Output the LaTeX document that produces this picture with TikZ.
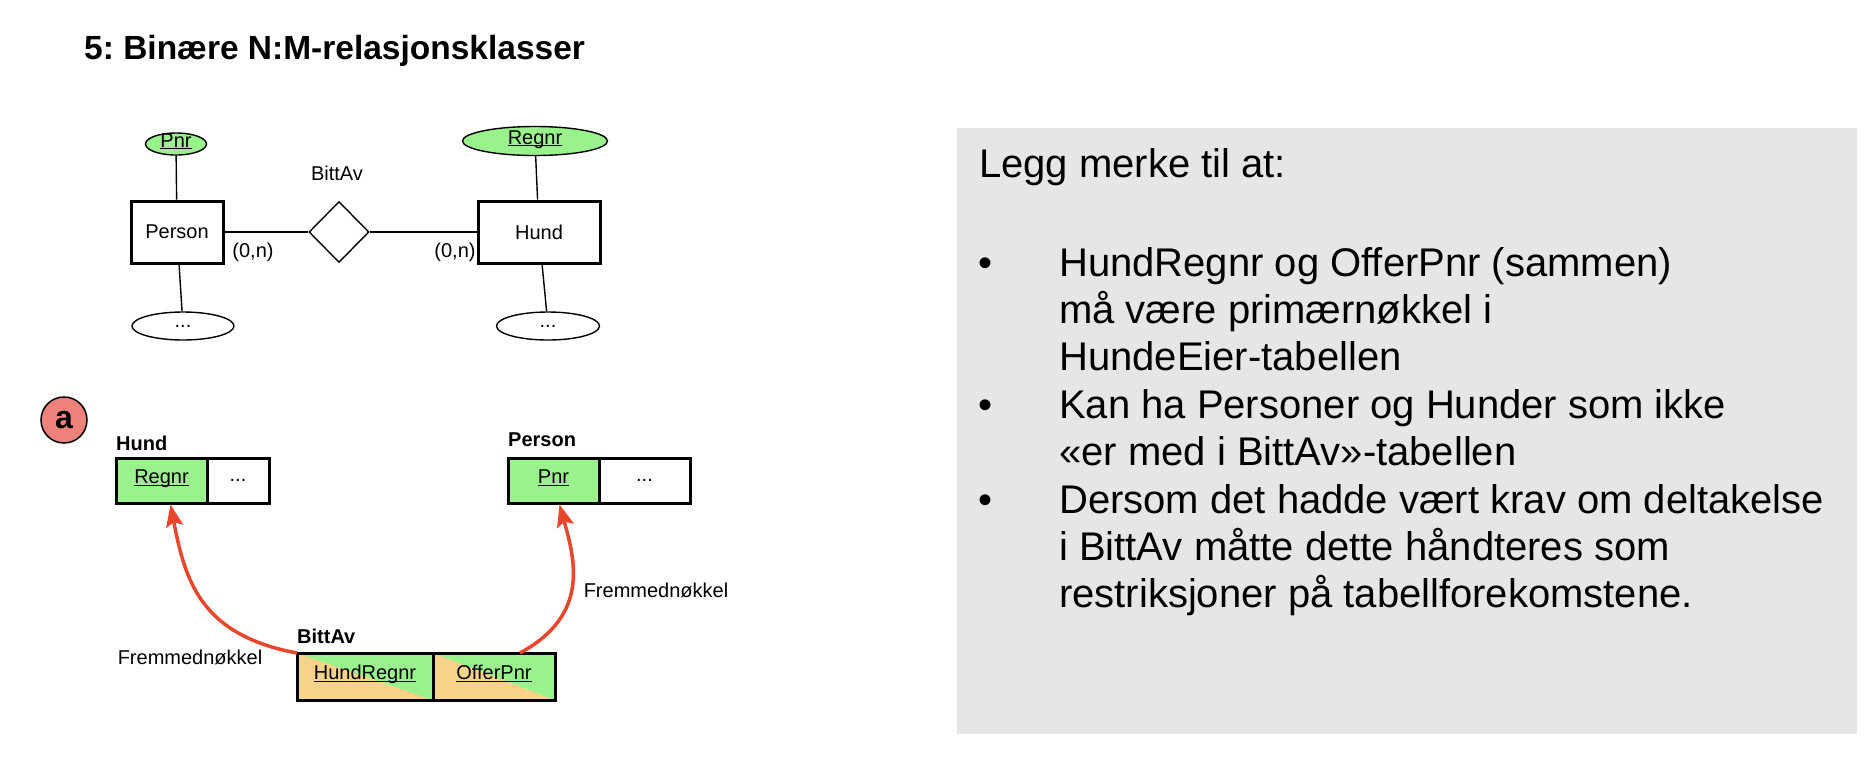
\documentclass[tikz,border=0pt]{standalone}
\usepackage{fontspec}
\setmainfont{Liberation Sans}
\frenchspacing
\usetikzlibrary{shapes.geometric,arrows.meta}
\definecolor{keygreen}{RGB}{153,242,140}
\definecolor{keyorange}{RGB}{247,211,138}
\definecolor{badge}{RGB}{239,130,122}
\definecolor{fkred}{RGB}{233,71,43}
\definecolor{panel}{RGB}{230,230,230}
\newcommand\keyattr[1]{\underline{\smash{#1}}\vphantom{g}}
\begin{document}
\begin{tikzpicture}[x=1pt,y=-1pt,every node/.style={font=\fontsize{20}{24}\selectfont},
  entity/.style={draw,line width=3pt,inner sep=0,minimum height=62,minimum width=#1},
  attr/.style={draw,ellipse,line width=1.4pt,inner sep=0,minimum width=#1},
  cell/.style={draw,line width=3pt,inner sep=0,outer sep=0,minimum height=45,minimum width=#1},
  fk/.style={fill=keyorange,path picture={\fill[keygreen] (path picture bounding box.north west) -- (path picture bounding box.north east) -- (path picture bounding box.south east) -- cycle;}},
  tname/.style={anchor=west,inner sep=0,font=\bfseries\fontsize{20}{24}\selectfont},
  lead/.style={anchor=base west,inner sep=0,font=\fontsize{40}{47.4}\selectfont},
  fkarrow/.style={fkred,line width=3.5pt,-{Stealth[length=22pt,width=17pt,inset=4pt]}}]
\useasboundingbox (0,0) rectangle (1876,756);

\node[anchor=base west,inner sep=0,font=\bfseries\fontsize{33.5}{40}\selectfont] (title) at (84,59) {5: Binære N:M-relasjonsklasser};

        \node[attr=61,minimum height=22,fill=keygreen] (pnr) at (176,144) {\keyattr{Pnr}};
        \node[attr=145,minimum height=29,fill=keygreen] (regnr) at (535,141) {\keyattr{Regnr}};
        \node[entity=92] (person) at (177,232) {Person};
        \node[entity=122] (hund) at (539,232) {Hund};
        \node[draw,diamond,line width=1.4pt,inner sep=0,minimum width=60,minimum height=61] (bitt) at (339,232) {};
        \node (bittlbl) at (337,173) {BittAv};
        \node (card1) at (253,252) {(0,n)};
        \node (card2) at (455,252) {(0,n)};
        \node[attr=102,minimum height=28] (pdots) at (183,326) {...};
        \node[attr=103,minimum height=28] (hdots) at (548,326) {...};
        \draw[line width=1.4pt] (pnr) -- (person);
        \draw[line width=1.4pt] (regnr) -- (hund);
        \draw[line width=1.4pt] (person) -- (pdots);
        \draw[line width=1.4pt] (hund) -- (hdots);
        \draw[line width=1.4pt] (person) -- (bitt);
        \draw[line width=1.4pt] (bitt) -- (hund);

        \node[circle,draw,fill=badge,line width=1.5pt,minimum size=46,inner sep=0,font=\bfseries\fontsize{32}{36}\selectfont] (a) at (64,420) {a};

        \node[tname] (hundlbl) at (116,443) {Hund};
        \node[cell=91,fill=keygreen] (hregnr) at (161.5,480.5) {\keyattr{Regnr}};
        \node[cell=62,anchor=west] (hmore) at (hregnr.east) {...};

        \node[tname] (personlbl) at (508,440) {Person};
        \node[cell=91,fill=keygreen] (ppnr) at (553.5,480.5) {\keyattr{Pnr}};
        \node[cell=91,anchor=west] (pmore) at (ppnr.east) {...};

        \node[tname] (bittavlbl) at (297,636) {BittAv};
        \node[cell=136,minimum height=47,fk] (bhund) at (365,676.5) {\keyattr{HundRegnr}};
        \node[cell=122,minimum height=47,fk,anchor=west] (boffer) at (bhund.east) {\keyattr{OfferPnr}};

        \draw[fkarrow] (bhund.north west) .. controls (200,635) and (185,580) .. ([xshift=9pt,yshift=-1.5pt]hregnr.south);
        \draw[fkarrow] ([xshift=26pt]boffer.north) .. controls (590,615) and (575,560) .. ([xshift=6pt,yshift=-1.5pt]ppnr.south);
        \node (fk1) at (190,657) {Fremmednøkkel};
        \node (fk2) at (656,590) {Fremmednøkkel};

        \fill[panel] (957,128) rectangle (1857,734);
        \node[lead] (legg) at (979,177) {Legg merke til at:};
        \foreach \t [count=\i] in {HundRegnr og OfferPnr (sammen),må være primærnøkkel i,HundeEier-tabellen,Kan ha Personer og Hunder som ikke,«er med i BittAv»-tabellen,Dersom det hadde vært krav om deltakelse,i BittAv måtte dette håndteres som,restriksjoner på tabellforekomstene.}
            \node[lead] (line\i) at (1059,{276+(\i-1)*47.4}) {\t};
        \foreach \i in {1,4,6}
            \node[lead] (dot\i) at (978,{276+(\i-1)*47.4}) {•};
\end{tikzpicture}
\end{document}
